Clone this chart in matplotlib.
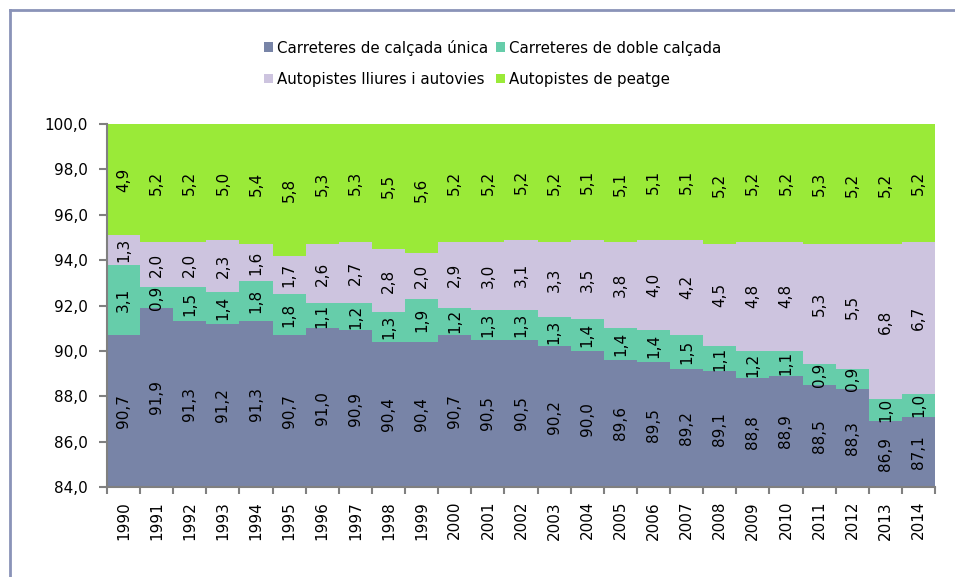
"""Stacked share of road network by type, 1990-2014."""

import matplotlib.pyplot as plt
import numpy as np
from matplotlib.lines import Line2D
from matplotlib.patches import Patch

years = [str(y) for y in range(1990, 2015)]

calcada_unica = [90.7, 91.9, 91.3, 91.2, 91.3, 90.7, 91.0, 90.9, 90.4, 90.4,
                 90.7, 90.5, 90.5, 90.2, 90.0, 89.6, 89.5, 89.2, 89.1, 88.8,
                 88.9, 88.5, 88.3, 86.9, 87.1]
doble_calcada = [3.1, 0.9, 1.5, 1.4, 1.8, 1.8, 1.1, 1.2, 1.3, 1.9,
                 1.2, 1.3, 1.3, 1.3, 1.4, 1.4, 1.4, 1.5, 1.1, 1.2,
                 1.1, 0.9, 0.9, 1.0, 1.0]
lliures_autovies = [1.3, 2.0, 2.0, 2.3, 1.6, 1.7, 2.6, 2.7, 2.8, 2.0,
                    2.9, 3.0, 3.1, 3.3, 3.5, 3.8, 4.0, 4.2, 4.5, 4.8,
                    4.8, 5.3, 5.5, 6.8, 6.7]
peatge = [4.9, 5.2, 5.2, 5.0, 5.4, 5.8, 5.3, 5.3, 5.5, 5.6,
          5.2, 5.2, 5.2, 5.2, 5.1, 5.1, 5.1, 5.1, 5.2, 5.2,
          5.2, 5.3, 5.2, 5.2, 5.2]

series = [
    ("Carreteres de calçada única", calcada_unica, "#7884a7"),
    ("Carreteres de doble calçada", doble_calcada, "#66cdaa"),
    ("Autopistes lliures i autovies", lliures_autovies, "#cdc4df"),
    ("Autopistes de peatge", peatge, "#9aea38"),
]

YMIN, YMAX = 84.0, 100.0

fig = plt.figure(figsize=(9.55, 5.77), dpi=100)
ax = fig.add_axes([107 / 955, 1 - 487 / 577, (935 - 107) / 955, (487 - 124) / 577])

x = np.arange(len(years))
bottom = np.zeros(len(years))
for k, (name, vals, color) in enumerate(series):
    vals = np.array(vals)
    heights = vals.copy()
    if k == len(series) - 1:
        # shares are rounded; let the top band close the stack at 100
        heights = np.maximum(vals, YMAX - bottom)
    ax.bar(x, heights, width=1.0, bottom=bottom, color=color, linewidth=0, label=name)
    for xi, b, v in zip(x, bottom, vals):
        lo = max(b, YMIN)
        hi = min(b + v, YMAX)
        ax.text(xi, (lo + hi) / 2, f"{v:.1f}".replace(".", ","), rotation=90,
                ha="center", va="center", fontsize=11, color="black")
    bottom = bottom + vals

ax.set_xlim(-0.5, len(years) - 0.5)
ax.set_ylim(YMIN, YMAX)
ax.set_yticks(np.arange(84, 100.1, 2))
ax.set_yticklabels([f"{v:.1f}".replace(".", ",") for v in np.arange(84, 100.1, 2)],
                   fontsize=11)
ax.set_xticks(x)
ax.set_xticklabels(years, rotation=90, fontsize=11)
ax.set_xticks(np.arange(-0.5, len(years)), minor=True)
ax.tick_params(axis="x", which="major", length=0, pad=10)
ax.tick_params(axis="x", which="minor", length=5, color="#808080", width=1.5)
ax.tick_params(axis="y", length=6, color="#808080", width=1.5, pad=8)
for side in ("top", "right"):
    ax.spines[side].set_visible(False)
for side in ("left", "bottom"):
    ax.spines[side].set_color("#808080")
    ax.spines[side].set_linewidth(1.5)

# legend: row-wise order with two columns
handles = [Patch(facecolor=c, edgecolor="none") for _, _, c in series]
labels = [n for n, _, _ in series]
order = [0, 2, 1, 3]
fig.legend([handles[i] for i in order], [labels[i] for i in order], ncol=2,
           loc="upper left", bbox_to_anchor=(250 / 955, 1 - 26 / 577), frameon=False,
           fontsize=10.8, handlelength=0.6, handleheight=0.6, handletextpad=0.3,
           columnspacing=0.5, labelspacing=1.1)

# outer frame (left and top edges visible)
frame_color = "#8a93b8"
fig.add_artist(Line2D([9.5 / 955, 9.5 / 955], [0, 1 - 9.5 / 577], color=frame_color,
                      linewidth=2, transform=fig.transFigure))
fig.add_artist(Line2D([9.5 / 955, 1], [1 - 9.5 / 577, 1 - 9.5 / 577], color=frame_color,
                      linewidth=2, transform=fig.transFigure))

fig.savefig("out.png", dpi=100)
